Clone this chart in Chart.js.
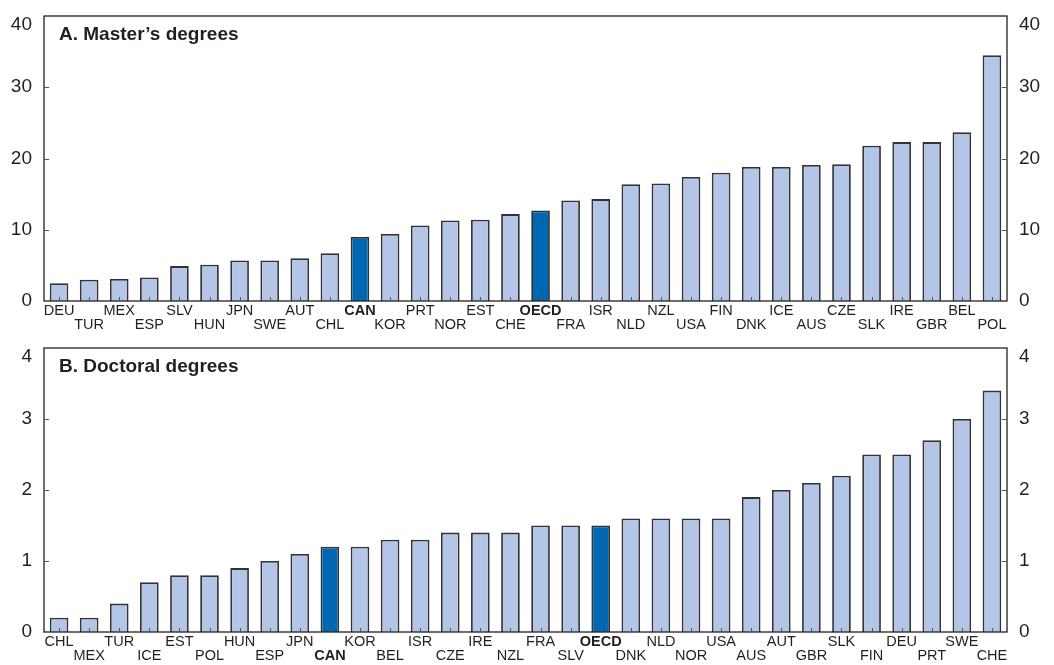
<!DOCTYPE html>
<html>
<head>
<meta charset="utf-8">
<script src="https://cdn.jsdelivr.net/npm/chart.js@4.4.1/dist/chart.umd.min.js"></script>
<style>
  html, body { margin: 0; padding: 0; background: #fff; }
  #wrap { position: relative; width: 1054px; height: 665px; }
  .panel { position: absolute; left: 0; width: 1054px; }
  #p1 { top: 0; height: 332px; }
  #p2 { top: 332px; height: 333px; }
</style>
</head>
<body>
<div id="wrap">
  <div class="panel" id="p1"><canvas id="c1"></canvas></div>
  <div class="panel" id="p2"><canvas id="c2"></canvas></div>
</div>
<script>
// Panel A: master's degrees
const mastersCountries = ['DEU','TUR','MEX','ESP','SLV','HUN','JPN','SWE','AUT','CHL','CAN','KOR','PRT','NOR','EST','CHE','OECD','FRA','ISR','NLD','NZL','USA','FIN','DNK','ICE','AUS','CZE','SLK','IRE','GBR','BEL','POL'];
const mastersValues = [2.5,3.0,3.1,3.3,4.9,5.1,5.7,5.7,6.0,6.7,9.0,9.4,10.6,11.3,11.4,12.2,12.7,14.1,14.3,16.4,16.5,17.4,18.0,18.8,18.8,19.1,19.2,21.8,22.3,22.3,23.7,34.5];
const mastersTicks = [0,10,20,30,40];

// Panel B: doctoral degrees
const doctoralCountries = ['CHL','MEX','TUR','ICE','EST','POL','HUN','ESP','JPN','CAN','KOR','BEL','ISR','CZE','IRE','NZL','FRA','SLV','OECD','DNK','NLD','NOR','USA','AUS','AUT','GBR','SLK','FIN','DEU','PRT','SWE','CHE'];
const doctoralValues = [0.2,0.2,0.4,0.7,0.8,0.8,0.9,1.0,1.1,1.2,1.2,1.3,1.3,1.4,1.4,1.4,1.5,1.5,1.5,1.6,1.6,1.6,1.6,1.9,2.0,2.1,2.2,2.5,2.5,2.7,3.0,3.4];
const doctoralTicks = [0,1,2,3,4];

const highlighted = ['CAN','OECD'];
const FONT = '"Liberation Sans", Arial, Helvetica, sans-serif';
const LIGHT = '#b3c6e7';
const DARK = '#0067b3';
const INK = '#231f20';

// Frame, inward tick marks and panel heading, drawn from the chart's own scales
const framePlugin = {
  id: 'frame',
  afterDraw(chart, args, opts) {
    const { ctx, chartArea: a, scales } = chart;
    ctx.save();
    ctx.strokeStyle = INK;
    ctx.lineWidth = 1.3;
    ctx.strokeRect(a.left, a.top, a.right - a.left, a.bottom - a.top);
    ctx.lineWidth = 1;
    ctx.strokeStyle = '#555';
    ctx.beginPath();
    const xs = scales.x;
    xs.ticks.forEach((t, i) => {
      const px = Math.round(xs.getPixelForTick(i)) + 0.5;
      ctx.moveTo(px, a.bottom);
      ctx.lineTo(px, a.bottom - 4);
    });
    const ys = scales.y;
    ys.ticks.forEach(t => {
      const py = Math.round(ys.getPixelForValue(t.value)) + 0.5;
      if (py <= a.top + 1 || py >= a.bottom - 1) return;
      ctx.moveTo(a.left, py); ctx.lineTo(a.left + 5, py);
      ctx.moveTo(a.right, py); ctx.lineTo(a.right - 5, py);
    });
    ctx.stroke();
    ctx.fillStyle = INK;
    ctx.font = 'bold 19px ' + FONT;
    ctx.textBaseline = 'alphabetic';
    ctx.textAlign = 'left';
    ctx.fillText(opts.heading, a.left + 15, a.top + 24);
    ctx.restore();
  }
};

function makeChart(canvasId, heading, labels, values, tickVals, yMax, xHeight, topPad) {
  const staggered = labels.map((l, i) => i % 2 ? ['', l] : [l]);
  const colors = labels.map(l => highlighted.includes(l) ? DARK : LIGHT);
  const yTick = {
    color: INK,
    padding: 12,
    font: { family: FONT, size: 19, lineHeight: '17px' },
    stepSize: tickVals[1] - tickVals[0],
    // the top label sits just inside the frame, below its gridline
    callback: v => v === yMax ? ['', String(v)] : String(v)
  };
  const fitY = w => s => { s.width = w; s.paddingTop = 0; s.paddingBottom = 0; };
  return new Chart(document.getElementById(canvasId), {
    type: 'bar',
    data: {
      labels: staggered,
      datasets: [{
        data: values,
        backgroundColor: colors,
        borderColor: '#333333',
        borderWidth: 1.8,
        borderSkipped: 'bottom',
        categoryPercentage: 1,
        barPercentage: 0.62
      }]
    },
    options: {
      responsive: true,
      maintainAspectRatio: false,
      animation: false,
      layout: { padding: { top: topPad, left: 0, right: 0, bottom: 0 } },
      plugins: {
        legend: { display: false },
        tooltip: { enabled: false },
        frame: { heading }
      },
      scales: {
        x: {
          grid: { display: false, drawTicks: false },
          border: { display: false },
          afterFit: s => { s.height = xHeight; s.paddingLeft = 0; s.paddingRight = 0; },
          ticks: {
            autoSkip: false,
            maxRotation: 0,
            minRotation: 0,
            padding: 3,
            color: INK,
            font: ctx => ({
              family: FONT,
              size: 14.5,
              lineHeight: '14px',
              weight: highlighted.includes(labels[ctx.index]) ? 'bold' : 'normal'
            })
          }
        },
        y: {
          position: 'left',
          min: 0, max: yMax,
          grid: { display: false, drawTicks: false },
          border: { display: false },
          afterFit: fitY(44),
          ticks: yTick
        },
        y2: {
          position: 'right',
          min: 0, max: yMax,
          grid: { display: false, drawTicks: false },
          border: { display: false },
          afterFit: fitY(47),
          ticks: yTick
        }
      }
    },
    plugins: [framePlugin]
  });
}

makeChart('c1', 'A. Master\u2019s degrees', mastersCountries, mastersValues, mastersTicks, 40, 31, 16);
makeChart('c2', 'B. Doctoral degrees', doctoralCountries, doctoralValues, doctoralTicks, 4, 33, 16);
</script>
</body>
</html>
